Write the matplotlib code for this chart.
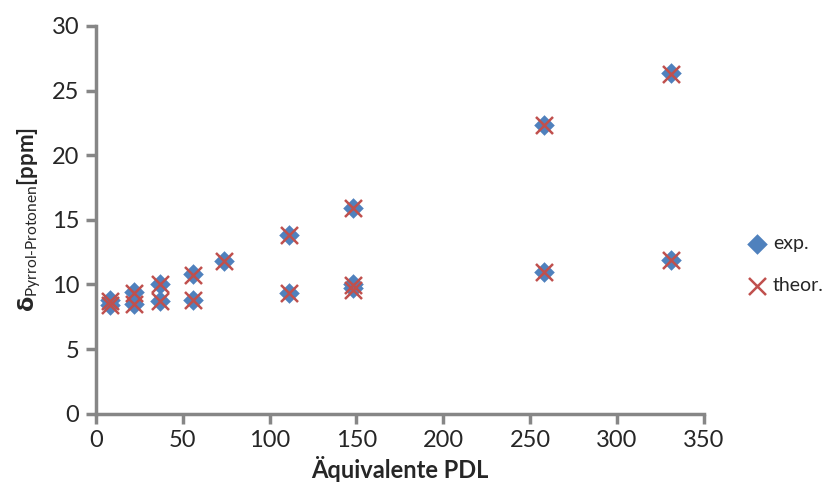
import matplotlib
matplotlib.use("Agg")
import matplotlib.pyplot as plt

pdl = [8, 8, 22, 22, 37, 37, 56, 56, 74, 111, 111, 148, 148, 148, 258, 258, 331, 331]
exp_vals = [8.8, 8.4, 9.4, 8.5, 10.0, 8.7, 10.8, 8.8, 11.8, 13.8, 9.35, 15.95, 10.0, 9.7, 22.3, 10.95, 26.35, 11.9]
theor_vals = [8.7, 8.4, 9.3, 8.5, 10.0, 8.7, 10.7, 8.8, 11.8, 13.8, 9.3, 15.9, 9.95, 9.6, 22.3, 10.95, 26.3, 11.9]
x_ticks = [0, 50, 100, 150, 200, 250, 300, 350]
y_ticks = [0, 5, 10, 15, 20, 25, 30]

plt.rcParams['font.family'] = ['Lato', 'DejaVu Sans']
plt.rcParams['mathtext.fontset'] = 'custom'
plt.rcParams['mathtext.rm'] = 'Lato'
plt.rcParams['mathtext.bf'] = 'DejaVu Sans:bold'

fig = plt.figure(figsize=(8.4, 4.99), dpi=100)
ax = fig.add_axes([0.114, 0.171, 0.724, 0.777])

grey = '#868686'
ax.scatter(pdl, exp_vals, marker='D', s=110, color='#4F81BD', label='exp.', zorder=3, linewidths=0)
ax.scatter(pdl, theor_vals, marker='x', s=150, color='#C0504D', label='theor.', zorder=4, linewidths=1.8)

ax.set_xlim(0, 350)
ax.set_ylim(0, 30)
ax.set_xticks(x_ticks)
ax.set_yticks(y_ticks)
for s in ['top', 'right']:
    ax.spines[s].set_visible(False)
for s in ['left', 'bottom']:
    ax.spines[s].set_color(grey)
    ax.spines[s].set_linewidth(2.5)
ax.tick_params(axis='both', colors=grey, width=2.5, length=7, labelsize=17, labelcolor='#262626')
ax.tick_params(axis='x', pad=5)
ax.tick_params(axis='y', pad=5)

ax.set_xlabel('Äquivalente PDL', fontsize=17, fontweight='bold', color='#262626', labelpad=3)
ax.set_ylabel(r'$\mathbf{\delta}_{\mathrm{Pyrrol\text{-}Protonen}}$[ppm]', fontsize=16,
              fontweight='bold', color='#262626', labelpad=6)

leg = ax.legend(loc='center left', bbox_to_anchor=(1.04, 0.385), frameon=False, fontsize=14,
                handletextpad=0.2, labelspacing=1.3, scatterpoints=1, handlelength=1.2)
for t in leg.get_texts():
    t.set_color('#262626')

fig.savefig('out.png', dpi=100)
